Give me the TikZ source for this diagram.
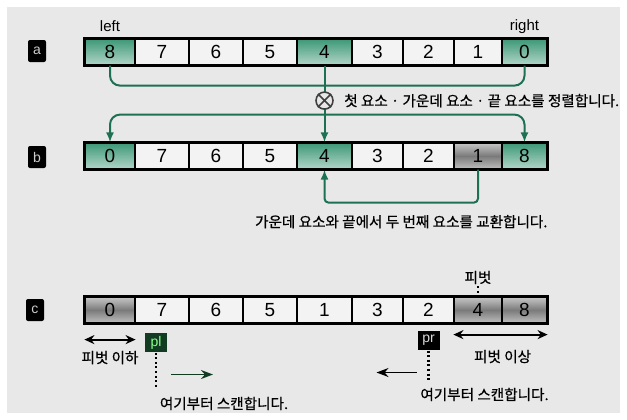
\documentclass[tikz,border=0pt]{standalone}
\usepackage{fontspec}
\setmainfont{Liberation Sans}
\newfontfamily\kofont[FakeBold=0.6]{Noto Sans CJK KR}
\usepackage{xcolor}
\usepackage{tikz}
\usetikzlibrary{positioning,calc,arrows.meta}

\definecolor{bgGray}{RGB}{232,232,232}
\definecolor{cellWhite}{RGB}{243,243,243}
\definecolor{lineGreen}{RGB}{30,112,82}
\definecolor{cellTeal}{RGB}{62,152,120}
\definecolor{plGreen}{RGB}{18,60,34}

\tikzset{
  cell/.style={draw, line width=0.6pt, minimum height=13pt, inner sep=0pt, font=\fontsize{9.5}{9.5}\selectfont},
  wh/.style={fill=cellWhite},
  hl/.style={top color=cellTeal, bottom color=cellTeal!40!white},
  sh/.style={top color=black!22, bottom color=black!25, middle color=black!52},
  tag/.style={fill=black, text=white!80!black, rounded corners=1pt, minimum width=9pt, minimum height=11pt, inner sep=0pt, font=\fontsize{7}{7}\selectfont},
  note/.style={font=\kofont\fontsize{7.3}{8}\selectfont, inner sep=1pt},
  link/.style={lineGreen, line width=1pt, rounded corners=5pt},
  tip/.style={-{Latex[length=5pt,width=4pt]}},
  dbl/.style={line width=0.9pt, {Stealth[length=5pt,width=4.5pt]}-{Stealth[length=5pt,width=4.5pt]}},
  ptr/.style={minimum width=11pt, minimum height=9.5pt, inner sep=0.5pt, font=\fontsize{7}{7}\selectfont},
  dots/.style={line width=1.1pt, dash pattern=on 1pt off 1.3pt},
}

\begin{document}
\begin{tikzpicture}[x=0.5pt, y=-0.5pt]
  \useasboundingbox (0,0) rectangle (627,419);
  \fill[white] (0,0) rectangle (627,419);
  \fill[bgGray] (7,7) rectangle (620,413);

  % row a
  \foreach \xl/\xr/\v/\s [count=\i from 0] in {85/135/8/hl, 135/189/7/wh, 189/243/6/wh, 243/297/5/wh, 297/352/4/hl, 352/403/3/wh, 403/454/2/wh, 454/502/1/wh, 502/547/0/hl}
    \node[cell, \s, minimum width={(\xr-\xl)*0.5pt}] (a\i) at ({(\xl+\xr)/2},52) {\v};
  \draw[line width=1.1pt] (a0.north west) rectangle (a8.south east);
  \node[tag] (taga) at (37,51) {a};
  \node[above=2pt of a0, inner sep=1pt, font=\fontsize{7.5}{8}\selectfont] (lft) {left};
  \node[above=1pt of a8, inner sep=1pt, font=\fontsize{7.5}{8}\selectfont] (rgt) {right};

  % row b
  \foreach \xl/\xr/\v/\s [count=\i from 0] in {85/135/0/hl, 135/189/7/wh, 189/243/6/wh, 243/297/5/wh, 297/352/4/hl, 352/403/3/wh, 403/454/2/wh, 454/502/1/sh, 502/547/8/hl}
    \node[cell, \s, minimum width={(\xr-\xl)*0.5pt}] (b\i) at ({(\xl+\xr)/2},156) {\v};
  \draw[line width=1.1pt] (b0.north west) rectangle (b8.south east);
  \node[tag] (tagb) at (37,157) {b};

  % row c
  \foreach \xl/\xr/\v/\s [count=\i from 0] in {85/135/0/sh, 135/189/7/wh, 189/243/6/wh, 243/297/5/wh, 297/352/1/wh, 352/403/3/wh, 403/454/2/wh, 454/502/4/sh, 502/547/8/sh}
    \node[cell, \s, minimum width={(\xr-\xl)*0.5pt}] (c\i) at ({(\xl+\xr)/2},310) {\v};
  \draw[line width=1.1pt] (c0.north west) rectangle (c8.south east);
  \node[tag] (tagc) at (35,310) {c};

  % sort first, middle, last
  \coordinate (join) at ($(a4.south)+(0,20)$);
  \coordinate (split) at ($(a4.south)+(0,49)$);
  \draw[link] (a0.south) |- (join) -| (a8.south);
  \draw[link, tip] (a4.south) -- (b4.north);
  \draw[link, tip] (split) -| (b0.north);
  \draw[link, tip] (split) -| (b8.north);
  \node[circle, draw=black!75, fill=bgGray, line width=0.8pt, minimum size=8.5pt, inner sep=0pt] (mix) at ($(a4.south)+(0,35)$) {};
  \draw[black!75, line width=0.8pt] (mix.north west) -- (mix.south east) (mix.north east) -- (mix.south west);
  \node[note, right=4pt of mix] (sorttxt) {첫 요소 · 가운데 요소 · 끝 요소를 정렬합니다.};

  % swap middle and second last
  \coordinate (swap) at ($(b4.south)+(0,33)$);
  \draw[link, rounded corners=2pt, tip, {Latex[length=5pt,width=4pt]}-] (b4.south) |- (swap -| b7.south) -- (b7.south);
  \node[note, below=5pt of {$(swap)!0.5!(swap -| b7.south)$}] (swaptxt) {가운데 요소와 끝에서 두 번째 요소를 교환합니다.};

  % pivot and scan pointers
  \node[note, above=5pt of c7] (pivot) {피벗};
  \draw[dots] (pivot) -- (c7);
  \draw[dbl] ($(c0.south west)+(0,16)$) -- ($(c0.south east)+(0,16)$);
  \node[note] (lowtxt) at ($(c0.south)+(0,34)$) {피벗 이하};
  \draw[dbl] ($(c7.south west)+(0,11)$) -- ($(c8.south east)+(0,11)$);
  \node[note] (hightxt) at ($(c7.south east)+(0,33)$) {피벗 이상};

  \node[ptr, fill=plGreen, text=green!45!white] (pl) at ($(c1.south)+(-6,19)$) {pl};
  \draw[dots] (pl.south) -- ++(0,35);
  \draw[plGreen, line width=0.9pt, -{Stealth[length=6pt,width=4.5pt]}] ($(pl.south)+(15,22)$) -- ++(42,0);
  \node[note] (pltxt) at ($(pl.south)+(68,51)$) {여기부터 스캔합니다.};

  \node[ptr, fill=black, text=white!85!black] (pr) at ($(c6.south)+(0,17)$) {pr};
  \draw[dots] (pr.south) -- ++(0,30);
  \draw[line width=0.9pt, -{Stealth[length=6pt,width=4.5pt]}] ($(pr.south)+(-12,22)$) -- ++(-40,0);
  \node[note] (prtxt) at ($(pr.south)+(56,44)$) {여기부터 스캔합니다.};
\end{tikzpicture}
\end{document}
